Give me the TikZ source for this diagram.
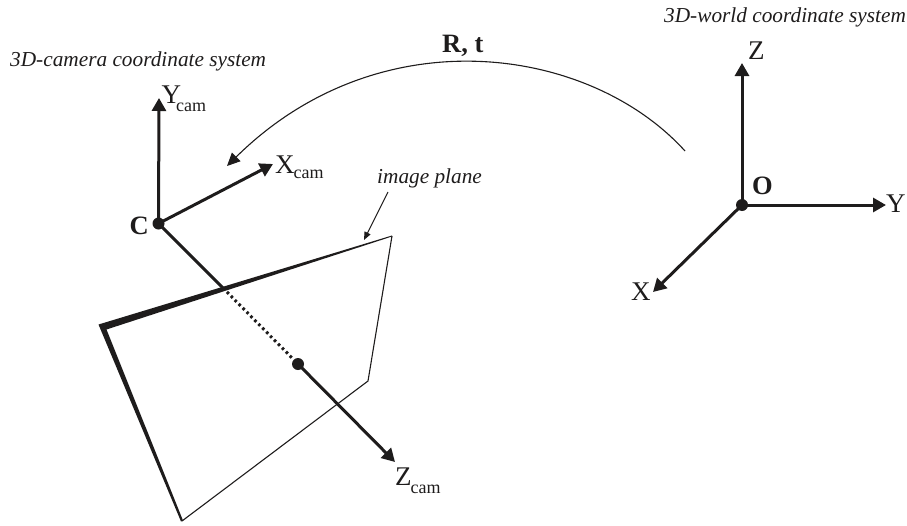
\documentclass[tikz,border=0pt]{standalone}
\usepackage{fontspec}
\setmainfont{Liberation Serif}
\usetikzlibrary{arrows.meta}
\definecolor{ink}{RGB}{30,28,28}
\tikzset{
  axis/.style={ink,line width=3pt,-{Triangle[length=13pt,width=14pt]}},
  thinl/.style={ink,line width=1.1pt},
  dotp/.style={circle,fill=ink,inner sep=0pt,minimum size=12pt},
  big/.style={inner sep=0pt,text=ink,font=\fontsize{27}{27}\selectfont},
  boldlab/.style={inner sep=0pt,text=ink,font=\fontsize{26.5}{27}\selectfont\bfseries},
  captext/.style={inner sep=0pt,text=ink,font=\fontsize{21.3}{22}\selectfont\itshape},
}
% letter, kern, drop of the subscript
\newcommand{\subc}[3]{#1\kern#2pt\raisebox{-#3pt}{\fontsize{18}{18}\selectfont cam}}
\begin{document}
\begin{tikzpicture}[x=1pt,y=-1pt]
\useasboundingbox (0,0) rectangle (907,525);
% image plane
\coordinate (pa) at (392,236);
\coordinate (pb) at (368,381);
\coordinate (pc) at (182,521);
\coordinate (pd) at (100,325);
\draw[thinl,line join=miter] (pa) -- (pb) -- (pc);
\fill[ink] (392,235.5) -- (98.5,324.5) -- (181,521.5) -- (183,520.5) -- (106.5,329.5) -- (392,236.5) -- cycle;
% camera axes
\node[dotp] (c) at (158.5,223.5) {};
\node[dotp] (pp) at (298,364) {};
\coordinate (ytip) at (159,98);
\coordinate (xtip) at (273,164);
\coordinate (ztip) at (395,462);
\coordinate (hit) at (223,288);
\draw[axis] (c.center) -- (ytip);
\draw[axis] (c.center) -- (xtip);
\draw[ink,line width=3pt] (c.center) -- (hit);
\draw[ink,line width=3pt,dash pattern=on 2.6pt off 3pt] (hit) -- (pp);
\draw[axis] (pp.center) -- (ztip);
% world axes
\node[dotp] (o) at (742,205) {};
\coordinate (ztop) at (742,63);
\coordinate (yend) at (886,205);
\coordinate (xend) at (653,292);
\draw[axis] (o.center) -- (ztop);
\draw[axis] (o.center) -- (yend);
\draw[axis] (o.center) -- (xend);
% R,t arc
\coordinate (as) at (685,151);
\coordinate (ae) at (227,166);
\draw[thinl,-{Triangle[length=13pt,width=12pt]}] (as) .. controls (590,46) and (380,15) .. (ae);
% image-plane pointer
\coordinate (ls) at (388,192);
\coordinate (le) at (364,240);
\draw[thinl,-{Triangle[length=8pt,width=6.5pt]}] (ls) -- (le);
% labels
\node[big,anchor=base west] (ly) at (161.5,103) {\subc{Y}{-5}{8.5}};
\node[big,anchor=base west] (lx) at (275,173) {\subc{X}{-1}{5}};
\node[big,anchor=base west] (lz) at (395,485) {\subc{Z}{-1}{8}};
\node[big,anchor=base west] (wz) at (748,59) {Z};
\node[big,anchor=base west] (wy) at (886,212) {Y};
\node[big,anchor=base west] (wx) at (631,300) {X};
\node[boldlab,anchor=base east] (lc) at (149,234) {C};
\node[boldlab,anchor=base west] (lo) at (752,194) {O};
\node[boldlab,anchor=base west] (lr) at (442,52) {R, t};
\node[captext,anchor=base west] (t1) at (10,66) {3D-camera coordinate system};
\node[captext,anchor=base west] (t2) at (664,22) {3D-world coordinate system};
\node[captext,anchor=base west] (t3) at (377,183) {image plane};
\end{tikzpicture}
\end{document}
